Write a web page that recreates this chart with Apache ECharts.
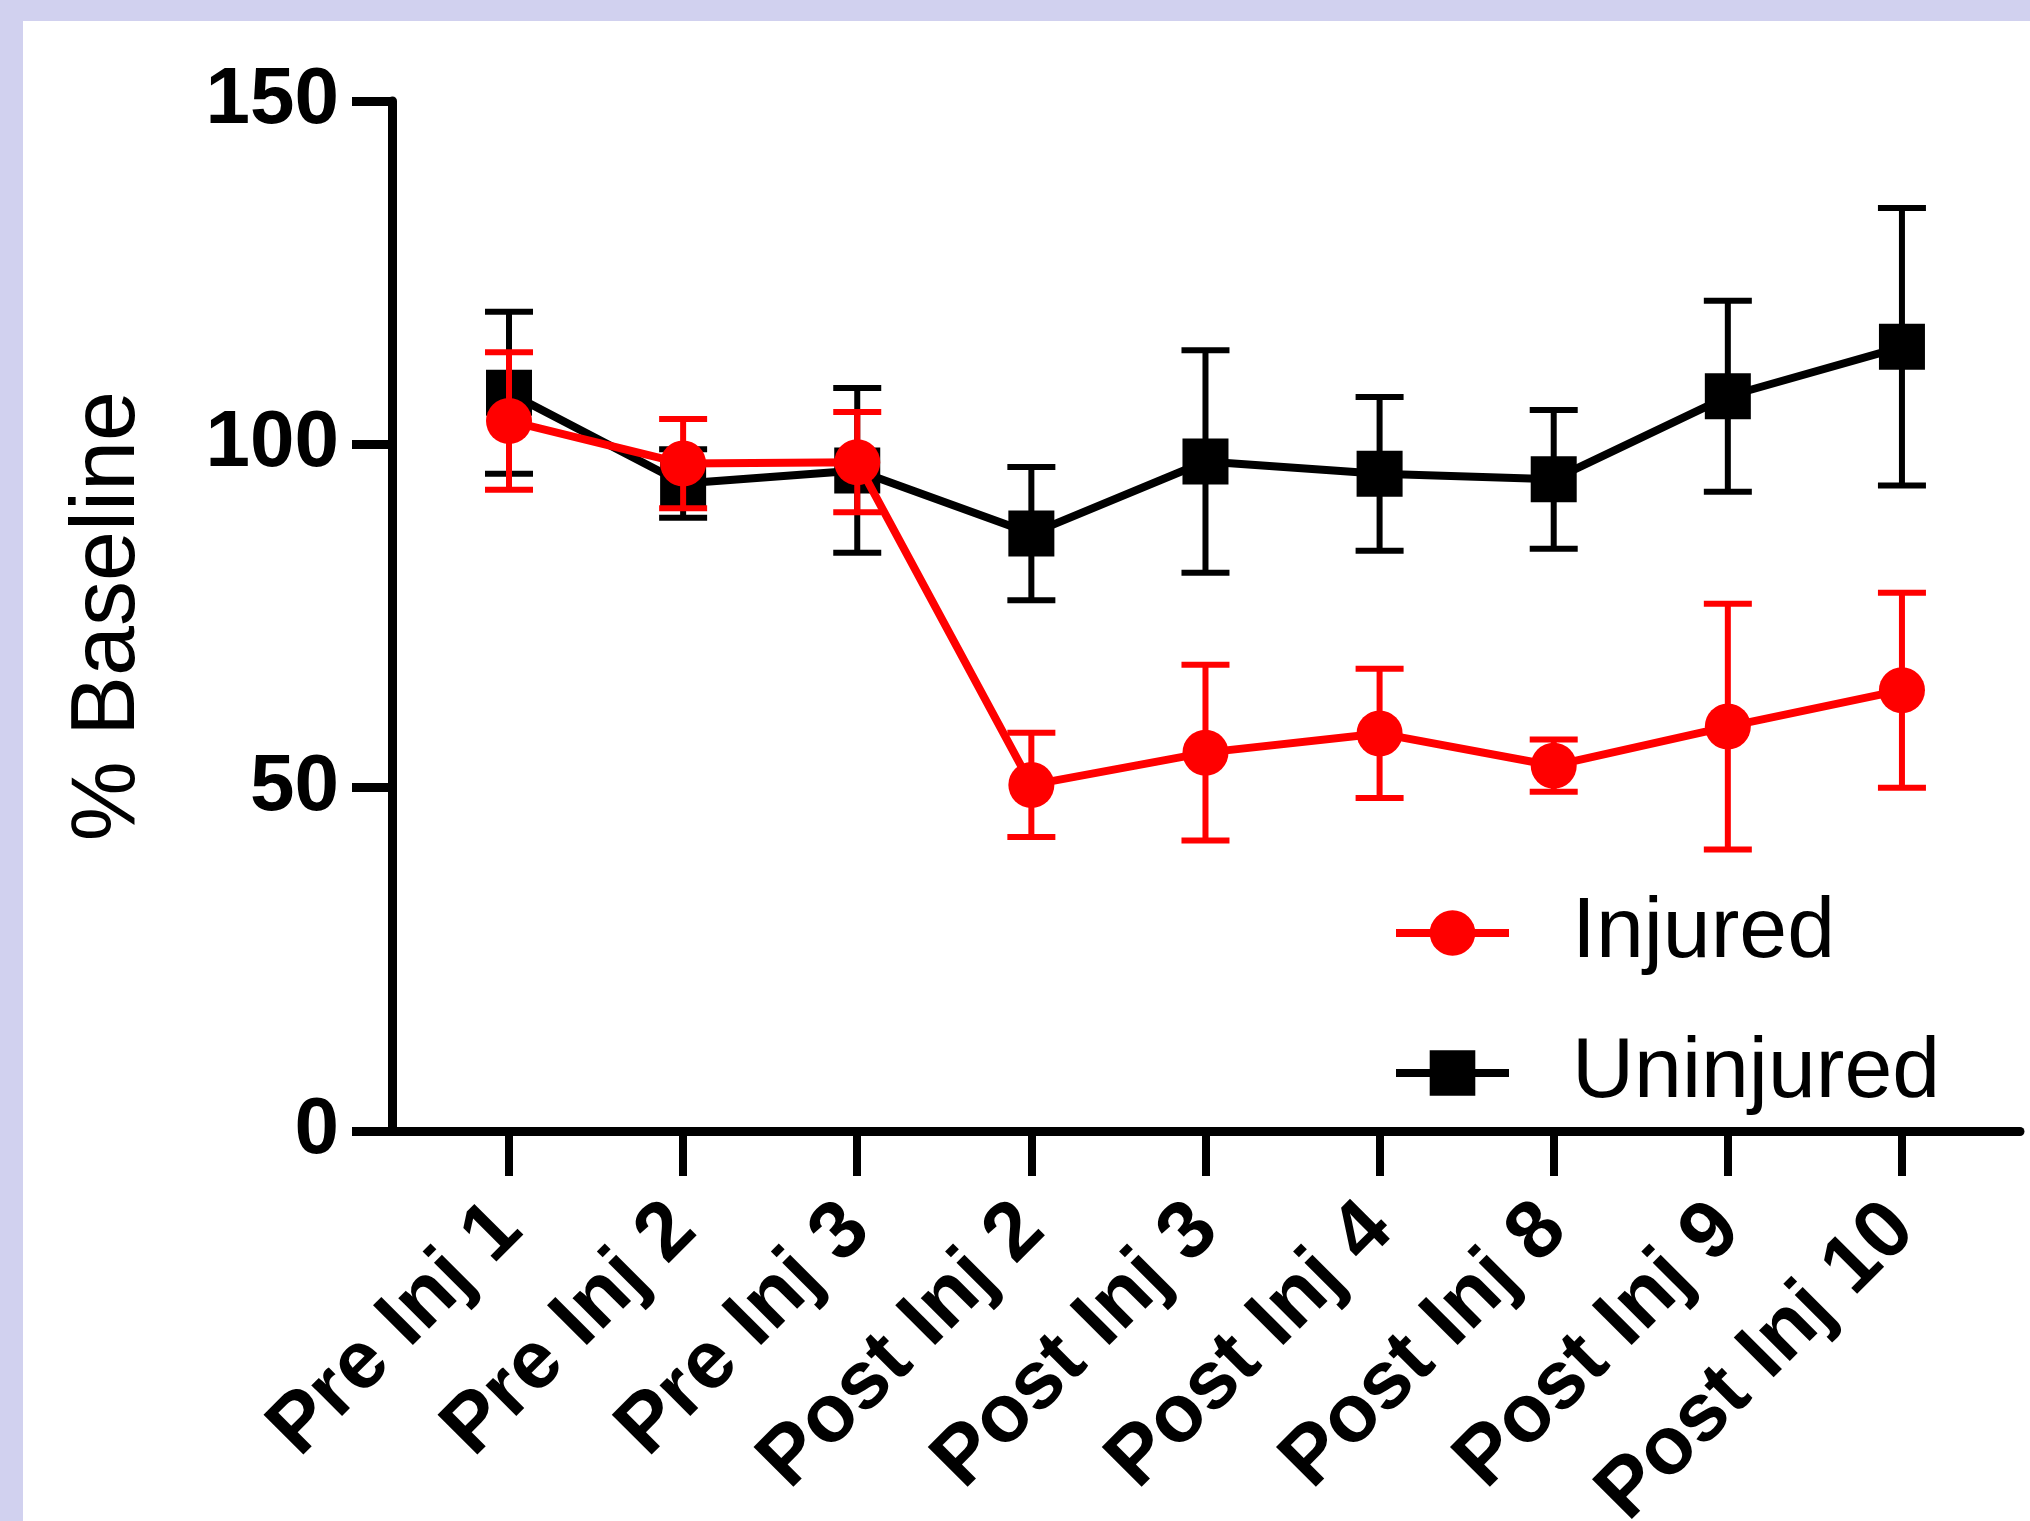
<!DOCTYPE html>
<html><head><meta charset="utf-8">
<script src="https://cdn.jsdelivr.net/npm/echarts@6/dist/echarts.min.js"></script>
<style>
html,body{margin:0;padding:0;}
#wrap{position:relative;width:2030px;height:1521px;background:#d1d1ef;overflow:hidden;}
#inner{position:absolute;left:23px;top:21px;right:0;bottom:0;background:#ffffff;}
#c{position:absolute;left:0;top:0;width:2030px;height:1521px;}
</style>
</head><body>
<div id="wrap"><div id="inner"></div><div id="c"></div></div>
<script>
const categories = ['Pre Inj 1','Pre Inj 2','Pre Inj 3','Post Inj 2','Post Inj 3','Post Inj 4','Post Inj 8','Post Inj 9','Post Inj 10'];
const injuredMean = [103.4, 97.2, 97.4, 50.4, 55.1, 57.9, 53.2, 58.9, 64.2];
const injuredErr = [10.0, 6.5, 7.3, 7.6, 12.8, 9.4, 3.8, 17.9, 14.2];
const uninjuredMean = [107.5, 94.3, 96.2, 87.0, 97.5, 95.7, 94.9, 107.0, 114.2];
const uninjuredErr = [11.8, 5.0, 12.0, 9.7, 16.2, 11.2, 10.1, 13.9, 20.2];
const yTicks = [0, 50, 100, 150];

const idx = categories.map((c, i) => i);
const lineData = (m) => m.map((v, i) => [i, v]);
const errData = (m, e) => m.map((v, i) => [i, v - e[i], v + e[i]]);

function errRender(color) {
  return function (params, api) {
    const x = api.value(0), lo = api.value(1), hi = api.value(2);
    const pHi = api.coord([x, hi]);
    const pLo = api.coord([x, lo]);
    const hw = 24;
    const style = { stroke: color, lineWidth: 6, fill: null };
    return {
      type: 'group',
      children: [
        { type: 'line', shape: { x1: pHi[0], y1: pHi[1], x2: pLo[0], y2: pLo[1] }, style: style },
        { type: 'line', shape: { x1: pHi[0] - hw, y1: pHi[1], x2: pHi[0] + hw, y2: pHi[1] }, style: style },
        { type: 'line', shape: { x1: pLo[0] - hw, y1: pLo[1], x2: pLo[0] + hw, y2: pLo[1] }, style: style }
      ]
    };
  };
}

const chart = echarts.init(document.getElementById('c'), null, { renderer: 'canvas' });
const FONT = '"Liberation Sans", Arial, Helvetica, sans-serif';
const legendText = { fontSize: 86, fontFamily: FONT, color: '#000', lineHeight: 86, padding: [0, 0, 0, 58] };
chart.setOption({
  animation: false,
  backgroundColor: 'transparent',
  textStyle: { fontFamily: FONT, color: '#000' },
  grid: { left: 392, right: 10, top: 101, bottom: 390, containLabel: false, outerBoundsMode: 'none' },
  xAxis: {
    type: 'value',
    min: -0.672,
    max: 8.678,
    splitLine: { show: false },
    axisLine: { show: true, onZero: false, lineStyle: { color: '#000', width: 9 } },
    axisTick: { show: true, length: 45, customValues: idx, lineStyle: { color: '#000', width: 8 } },
    axisLabel: {
      customValues: idx,
      rotate: 45,
      margin: 86,
      fontSize: 82,
      fontWeight: 'bold',
      fontFamily: FONT,
      color: '#000',
      formatter: (v) => categories[Math.round(v)]
    }
  },
  yAxis: {
    type: 'value',
    min: 0,
    max: 150,
    interval: 50,
    name: '% Baseline',
    nameLocation: 'middle',
    nameRotate: 90,
    nameGap: 238,
    nameMoveOverlap: false,
    nameTextStyle: { fontSize: 90, fontFamily: FONT, color: '#000' },
    splitLine: { show: false },
    axisLine: { show: true, onZero: false, lineStyle: { color: '#000', width: 9 } },
    axisTick: { show: true, length: 40, customValues: yTicks, lineStyle: { color: '#000', width: 9 } },
    axisLabel: {
      customValues: yTicks,
      margin: 53,
      fontSize: 80,
      fontWeight: 'bold',
      fontFamily: FONT,
      color: '#000'
    }
  },
  legend: [
    {
      data: ['Injured'],
      left: 1387, top: 885,
      orient: 'vertical',
      itemWidth: 113, itemHeight: 57,
      lineStyle: { width: 8 },
      textStyle: legendText,
      selectedMode: false
    },
    {
      data: ['Uninjured'],
      left: 1387, top: 1025,
      orient: 'vertical',
      itemWidth: 113, itemHeight: 57,
      lineStyle: { width: 8 },
      textStyle: legendText,
      selectedMode: false
    }
  ],
  series: [
    {
      name: 'Uninjured err',
      type: 'custom',
      renderItem: errRender('#000000'),
      encode: { x: 0, y: [1, 2] },
      data: errData(uninjuredMean, uninjuredErr),
      z: 2
    },
    {
      name: 'Uninjured',
      type: 'line',
      data: lineData(uninjuredMean),
      symbol: 'rect',
      symbolSize: 46,
      itemStyle: { color: '#000000' },
      lineStyle: { color: '#000000', width: 8 },
      z: 3
    },
    {
      name: 'Injured err',
      type: 'custom',
      renderItem: errRender('#ff0000'),
      encode: { x: 0, y: [1, 2] },
      data: errData(injuredMean, injuredErr),
      z: 4
    },
    {
      name: 'Injured',
      type: 'line',
      data: lineData(injuredMean),
      symbol: 'circle',
      symbolSize: 46,
      itemStyle: { color: '#ff0000' },
      lineStyle: { color: '#ff0000', width: 8 },
      z: 5
    }
  ]
});
</script>
</body></html>
